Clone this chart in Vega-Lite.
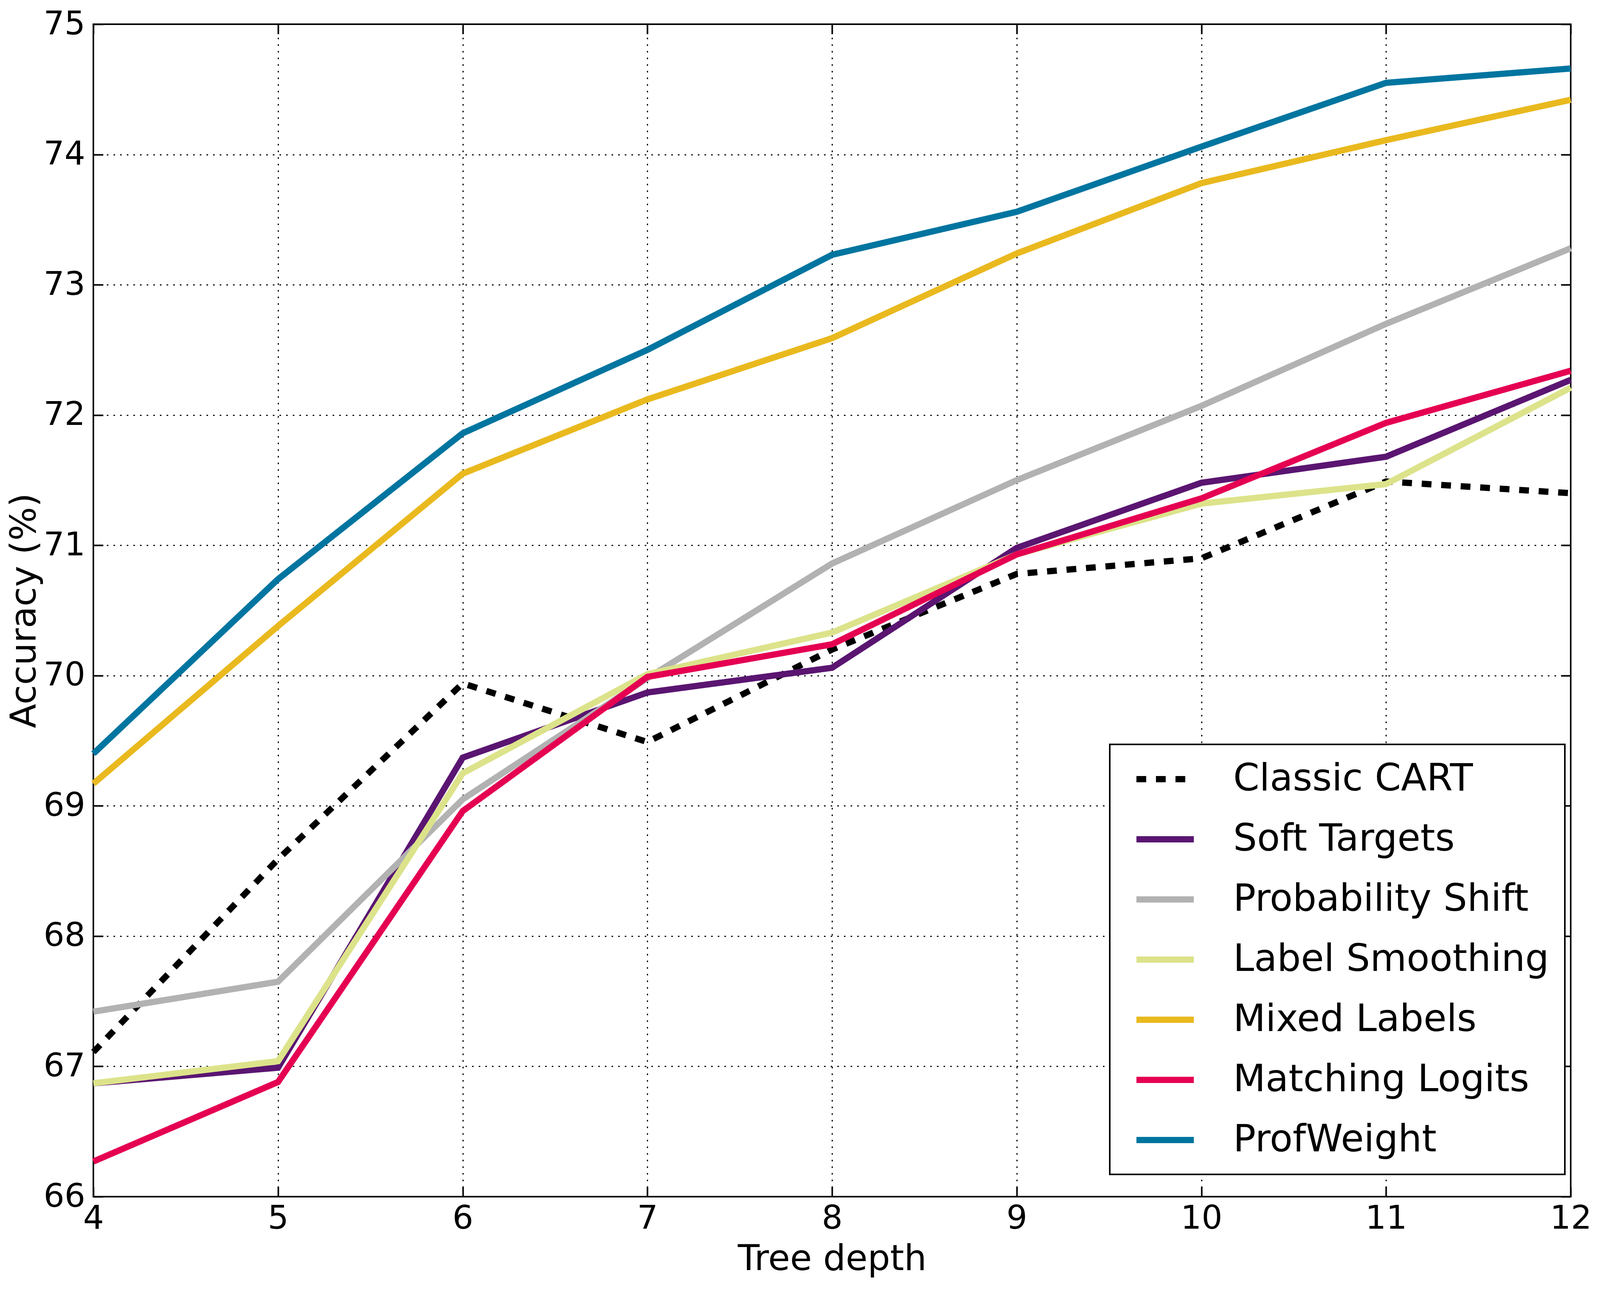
{
  "$schema": "https://vega.github.io/schema/vega-lite/v6.json",
  "autosize": {"type": "none"},
  "padding": {"left": 239, "top": 62, "right": 510, "bottom": 239},
  "width": 3782,
  "height": 3002,
  "background": "white",
  "config": {
    "font": "DejaVu Sans",
    "view": {"stroke": "black", "strokeWidth": 4},
    "axis": {
      "labelFont": "DejaVu Sans", "labelFontSize": 84, "labelColor": "black", "labelFlush": false,
      "titleFont": "DejaVu Sans", "titleFontSize": 91, "titleFontWeight": "normal", "titleColor": "black",
      "domain": false, "tickColor": "black", "tickWidth": 4, "tickSize": -25,
      "gridColor": "black", "gridWidth": 3, "gridDash": [4, 13], "gridOpacity": 1
    }
  },
  "data": {"values": [
    {"depth": 4, "method": "Classic CART", "acc": 67.11},
    {"depth": 5, "method": "Classic CART", "acc": 68.59},
    {"depth": 6, "method": "Classic CART", "acc": 69.94},
    {"depth": 7, "method": "Classic CART", "acc": 69.49},
    {"depth": 8, "method": "Classic CART", "acc": 70.20},
    {"depth": 9, "method": "Classic CART", "acc": 70.78},
    {"depth": 10, "method": "Classic CART", "acc": 70.90},
    {"depth": 11, "method": "Classic CART", "acc": 71.49},
    {"depth": 12, "method": "Classic CART", "acc": 71.40},
    {"depth": 4, "method": "Soft Targets", "acc": 66.87},
    {"depth": 5, "method": "Soft Targets", "acc": 66.99},
    {"depth": 6, "method": "Soft Targets", "acc": 69.37},
    {"depth": 7, "method": "Soft Targets", "acc": 69.87},
    {"depth": 8, "method": "Soft Targets", "acc": 70.06},
    {"depth": 9, "method": "Soft Targets", "acc": 70.98},
    {"depth": 10, "method": "Soft Targets", "acc": 71.48},
    {"depth": 11, "method": "Soft Targets", "acc": 71.68},
    {"depth": 12, "method": "Soft Targets", "acc": 72.27},
    {"depth": 4, "method": "Probability Shift", "acc": 67.42},
    {"depth": 5, "method": "Probability Shift", "acc": 67.65},
    {"depth": 6, "method": "Probability Shift", "acc": 69.05},
    {"depth": 7, "method": "Probability Shift", "acc": 69.98},
    {"depth": 8, "method": "Probability Shift", "acc": 70.86},
    {"depth": 9, "method": "Probability Shift", "acc": 71.50},
    {"depth": 10, "method": "Probability Shift", "acc": 72.07},
    {"depth": 11, "method": "Probability Shift", "acc": 72.70},
    {"depth": 12, "method": "Probability Shift", "acc": 73.28},
    {"depth": 4, "method": "Label Smoothing", "acc": 66.87},
    {"depth": 5, "method": "Label Smoothing", "acc": 67.04},
    {"depth": 6, "method": "Label Smoothing", "acc": 69.25},
    {"depth": 7, "method": "Label Smoothing", "acc": 70.01},
    {"depth": 8, "method": "Label Smoothing", "acc": 70.33},
    {"depth": 9, "method": "Label Smoothing", "acc": 70.93},
    {"depth": 10, "method": "Label Smoothing", "acc": 71.32},
    {"depth": 11, "method": "Label Smoothing", "acc": 71.47},
    {"depth": 12, "method": "Label Smoothing", "acc": 72.21},
    {"depth": 4, "method": "Mixed Labels", "acc": 69.17},
    {"depth": 5, "method": "Mixed Labels", "acc": 70.38},
    {"depth": 6, "method": "Mixed Labels", "acc": 71.55},
    {"depth": 7, "method": "Mixed Labels", "acc": 72.12},
    {"depth": 8, "method": "Mixed Labels", "acc": 72.59},
    {"depth": 9, "method": "Mixed Labels", "acc": 73.24},
    {"depth": 10, "method": "Mixed Labels", "acc": 73.78},
    {"depth": 11, "method": "Mixed Labels", "acc": 74.11},
    {"depth": 12, "method": "Mixed Labels", "acc": 74.42},
    {"depth": 4, "method": "Matching Logits", "acc": 66.27},
    {"depth": 5, "method": "Matching Logits", "acc": 66.88},
    {"depth": 6, "method": "Matching Logits", "acc": 68.96},
    {"depth": 7, "method": "Matching Logits", "acc": 69.99},
    {"depth": 8, "method": "Matching Logits", "acc": 70.24},
    {"depth": 9, "method": "Matching Logits", "acc": 70.93},
    {"depth": 10, "method": "Matching Logits", "acc": 71.36},
    {"depth": 11, "method": "Matching Logits", "acc": 71.94},
    {"depth": 12, "method": "Matching Logits", "acc": 72.34},
    {"depth": 4, "method": "ProfWeight", "acc": 69.40},
    {"depth": 5, "method": "ProfWeight", "acc": 70.74},
    {"depth": 6, "method": "ProfWeight", "acc": 71.86},
    {"depth": 7, "method": "ProfWeight", "acc": 72.50},
    {"depth": 8, "method": "ProfWeight", "acc": 73.23},
    {"depth": 9, "method": "ProfWeight", "acc": 73.56},
    {"depth": 10, "method": "ProfWeight", "acc": 74.06},
    {"depth": 11, "method": "ProfWeight", "acc": 74.55},
    {"depth": 12, "method": "ProfWeight", "acc": 74.66}
  ]},
  "resolve": {"axis": {"x": "independent", "y": "independent"}},
  "layer": [
    {
      "mark": {"type": "line", "strokeWidth": 16, "strokeCap": "butt", "strokeJoin": "miter"},
      "encoding": {
        "x": {"field": "depth", "type": "quantitative", "title": "Tree depth",
              "scale": {"domain": [4, 12], "nice": false, "zero": false},
              "axis": {"orient": "bottom", "values": [4, 5, 6, 7, 8, 9, 10, 11, 12], "format": "d", "labelPadding": 40, "titlePadding": 17, "grid": true}},
        "y": {"field": "acc", "type": "quantitative", "title": "Accuracy (%)",
              "scale": {"domain": [66, 75], "nice": false, "zero": false},
              "axis": {"orient": "left", "values": [66, 67, 68, 69, 70, 71, 72, 73, 74, 75], "format": "d", "labelPadding": 46, "titlePadding": 2, "grid": true}},
        "color": {"field": "method", "type": "nominal",
                  "scale": {"domain": ["Classic CART", "Soft Targets", "Probability Shift", "Label Smoothing", "Mixed Labels", "Matching Logits", "ProfWeight"],
                            "range": ["#000000", "#5a1571", "#b2b2b2", "#dce38a", "#e9b91e", "#e50052", "#0075a0"]},
                  "legend": {"title": null, "orient": "none", "legendX": 2602, "legendY": 1844,
                             "labelFont": "DejaVu Sans", "labelFontSize": 96, "labelColor": "black", "labelLimit": 0,
                             "symbolType": "M-0.509,0H3.098", "symbolSize": 6642, "symbolStrokeWidth": 16,
                             "labelOffset": 178, "rowPadding": 57, "padding": 40,
                             "strokeColor": "black", "fillColor": "white",
                             "encode": {"legend": {"update": {"strokeWidth": {"value": 4}}}}}},
        "strokeDash": {"field": "method", "type": "nominal",
                       "scale": {"domain": ["Classic CART", "Soft Targets", "Probability Shift", "Label Smoothing", "Mixed Labels", "Matching Logits", "ProfWeight"],
                                 "range": [[25, 25], [1, 0], [1, 0], [1, 0], [1, 0], [1, 0], [1, 0]]},
                       "legend": {"title": null, "orient": "none", "legendX": 2602, "legendY": 1844}}
      }
    },
    {
      "mark": {"type": "line", "opacity": 0},
      "encoding": {
        "x": {"field": "depth", "type": "quantitative",
              "axis": {"orient": "top", "values": [4, 5, 6, 7, 8, 9, 10, 11, 12], "labels": false, "title": null, "grid": false}},
        "y": {"field": "acc", "type": "quantitative",
              "axis": {"orient": "right", "values": [66, 67, 68, 69, 70, 71, 72, 73, 74, 75], "labels": false, "title": null, "grid": false}},
        "detail": {"field": "method"}
      }
    }
  ]
}
